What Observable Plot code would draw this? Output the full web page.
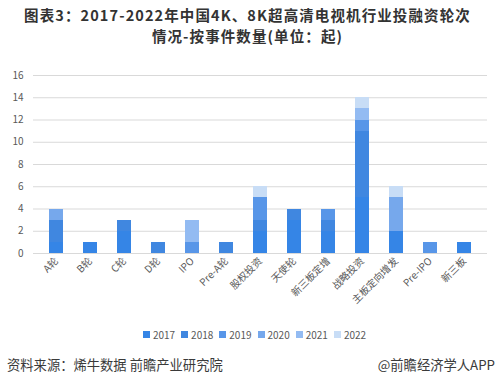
<!DOCTYPE html>
<html>
<head>
<meta charset="utf-8">
<script src="https://cdn.jsdelivr.net/npm/d3@7"></script>
<script src="https://cdn.jsdelivr.net/npm/@observablehq/plot@0.6"></script>
<style>
  body { margin: 0; width: 495px; height: 386px; overflow: hidden; background: #fff; font-family: "Noto Sans CJK SC", "Noto Sans", sans-serif; }
  #title { padding-top: 4px; height: 37px; font-size: 14.5px; letter-spacing: 1.1px; font-weight: bold; color: #333; text-align: center; }
  #title div { height: 21px; line-height: 21px; white-space: nowrap; }
  #chart svg { display: block; }
  div.lg-swatches { justify-content: center; min-height: 33px; margin: 0; font-size: 10px; color: #595959; font-family: "Noto Sans CJK SC", sans-serif; padding-left: 20px; }
  div.lg-swatches .lg-swatch { margin-right: 6px; }
  div.lg-swatches .lg-swatch > svg { margin-right: 3px; }
  #source { margin-top: 4px; height: 20px; line-height: 20px; font-size: 13.3px; color: #3a3a3a; position: relative; }
  #source .l { position: absolute; left: 7px; }
  #source .r { position: absolute; right: 0px; }
</style>
</head>
<body>
<div id="title"><div>图表3：2017-2022年中国4K、8K超高清电视机行业投融资轮次</div><div>情况-按事件数量(单位：起)</div></div>
<div id="chart"></div>
<div id="legend"></div>
<div id="source"><span class="l">资料来源：烯牛数据 前瞻产业研究院</span><span class="r">@前瞻经济学人APP</span></div>
<script>
const categories = ["A轮","B轮","C轮","D轮","IPO","Pre-A轮","股权投资","天使轮","新三板定增","战略投资","主板定向增发","Pre-IPO","新三板"];
const years = ["2017","2018","2019","2020","2021","2022"];
const colors = ["#3585e6","#4087e0","#5896e8","#76a8ec","#93bbf2","#c8ddf6"];
const y2017 = [1,1,2,0,0,0,2,3,2,5,2,0,1];
const y2018 = [2,0,1,1,0,1,1,1,1,6,0,0,0];
const y2019 = [0,0,0,0,1,0,2,0,1,1,0,1,0];
const y2020 = [1,0,0,0,0,0,0,0,0,0,3,0,0];
const y2021 = [0,0,0,0,2,0,0,0,0,1,0,0,0];
const y2022 = [0,0,0,0,0,0,1,0,0,1,1,0,0];
const yTicks = [0,2,4,6,8,10,12,14,16];

const series = [y2017,y2018,y2019,y2020,y2021,y2022];
const data = [];
years.forEach((yr, i) => {
  categories.forEach((c, j) => {
    if (series[i][j] > 0) data.push({category: c, year: yr, value: series[i][j]});
  });
});

const plot = Plot.plot({
  width: 495,
  height: 277,
  marginTop: 34,
  marginBottom: 65,
  marginLeft: 33,
  marginRight: 8,
  style: {fontFamily: "'Noto Sans CJK SC', sans-serif", fontSize: "10px", color: "#595959", background: "#fff"},
  x: {domain: categories, paddingInner: 0.6, paddingOuter: 0.3, label: null},
  y: {domain: [0, 16], label: null},
  color: {domain: years, range: colors},
  marks: [
    Plot.ruleY(yTicks, {stroke: "#d9d9d9", strokeWidth: 1}),
    Plot.barY(data, {x: "category", y: "value", fill: "year", shapeRendering: "crispEdges"}),
    Plot.axisY({ticks: yTicks, tickSize: 0, tickPadding: 10, label: null}),
    Plot.axisX({tickSize: 0, tickPadding: 6, tickRotate: -45, label: null})
  ]
});
document.getElementById("chart").appendChild(plot);

const lg = Plot.legend({
  color: {domain: years, range: colors, type: "ordinal"},
  swatchSize: 7,
  className: "lg"
});
document.getElementById("legend").appendChild(lg);
</script>
</body>
</html>
